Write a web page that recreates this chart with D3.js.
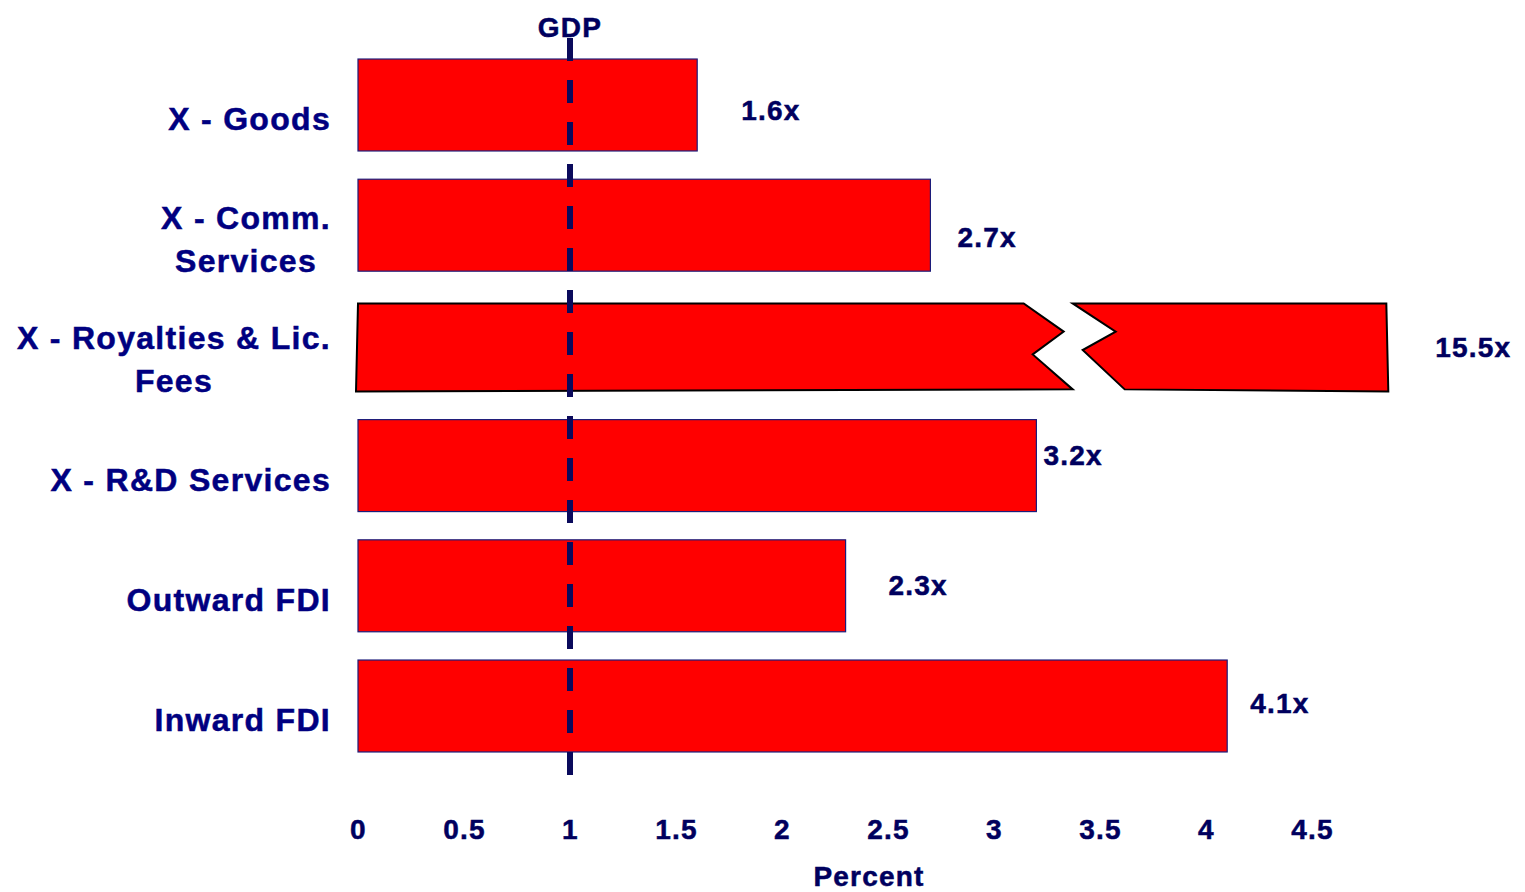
<!DOCTYPE html>
<html>
<head>
<meta charset="utf-8">
<script src="https://cdn.jsdelivr.net/npm/d3@7"></script>
<style>
  html, body { margin: 0; padding: 0; background: #fff; }
  svg { display: block; }
  text { font-family: "Liberation Sans", Arial, Helvetica, sans-serif; font-weight: bold; }
</style>
</head>
<body>
<svg id="chart" width="1525" height="892"></svg>
<script>
// Growth multiples relative to GDP (GDP = 1)
const categories = [
  "X - Goods",
  "X - Comm. Services",
  "X - Royalties & Lic. Fees",
  "X - R&D Services",
  "Outward FDI",
  "Inward FDI"
];
const categoryLines = [
  ["X - Goods"],
  ["X - Comm.", "Services"],
  ["X - Royalties & Lic.", "Fees"],
  ["X - R&D Services"],
  ["Outward FDI"],
  ["Inward FDI"]
];
const values = [1.6, 2.7, 15.5, 3.2, 2.3, 4.1];
const valueLabels = ["1.6x", "2.7x", "15.5x", "3.2x", "2.3x", "4.1x"];
const tickValues = [0, 0.5, 1, 1.5, 2, 2.5, 3, 3.5, 4, 4.5];
const gdpValue = 1;
const axisTitle = "Percent";
const refLabel = "GDP";

// Layout
const svg = d3.select("#chart");
const left = 358, right = 1312;
const axisMax = 4.5;
const breakAt = 3.14;      // where an off-scale bar is cut
const overflowEnd = 4.86;  // where an off-scale bar's tail ends
const labelNudge = [[44, 5], [27, 12], [47, 2], [7, -10], [43, -1], [23, -3]];

const x = d3.scaleLinear().domain([0, axisMax]).range([left, right]);
const y = d3.scaleBand().domain(categories).range([44.9, 766.1])
  .paddingInner(0.235).paddingOuter(0.1175);

const navy = "#000080";
const dark = "#00005e";

const g = svg.append("g");

// Regular bars
g.selectAll("rect.bar")
  .data(categories.map((c, i) => ({ c, v: values[i], i })).filter(d => d.v <= axisMax))
  .join("rect")
  .attr("class", "bar")
  .attr("x", x(0))
  .attr("y", d => y(d.c))
  .attr("width", d => x(d.v) - x(0))
  .attr("height", y.bandwidth())
  .attr("fill", "#ff0000")
  .attr("stroke", "#1c1c7a")
  .attr("stroke-width", 1.2);

// Off-scale bars, drawn with a zigzag break
const overflow = categories.map((c, i) => ({ c, v: values[i], i })).filter(d => d.v > axisMax);
overflow.forEach(d => {
  const top = y(d.c) + 4, h = y.bandwidth() - 4, bot = top + h;
  const bx = x(breakAt), xe = x(overflowEnd), x0 = x(0);
  const leftPart = [
    [x0, top], [bx, top], [bx + 40, top + 0.32 * h], [bx + 9, top + 0.58 * h],
    [bx + 49, bot - 2], [x0 - 2, bot]
  ];
  const rightPart = [
    [bx + 49, top], [xe - 2, top], [xe, bot], [bx + 101, bot - 2],
    [bx + 59, top + 0.53 * h], [bx + 92, top + 0.32 * h]
  ];
  [leftPart, rightPart].forEach(pts => {
    g.append("path")
      .attr("d", d3.line()(pts) + "Z")
      .attr("fill", "#ff0000")
      .attr("stroke", "#000")
      .attr("stroke-width", 2)
      .attr("stroke-linejoin", "miter");
  });
});

// Value labels
g.selectAll("text.val")
  .data(categories.map((c, i) => ({ c, v: values[i], i })))
  .join("text")
  .attr("class", "val")
  .attr("x", d => (d.v > axisMax ? x(overflowEnd) : x(d.v)) + labelNudge[d.i][0])
  .attr("y", d => y(d.c) + y.bandwidth() / 2 + labelNudge[d.i][1])
  .attr("dy", "0.35em")
  .attr("font-size", 28)
  .attr("letter-spacing", 1.2)
  .attr("stroke", dark)
  .attr("stroke-width", 0.5)
  .attr("fill", dark)
  .text(d => valueLabels[d.i]);

// Category labels (multi-line labels are centred as a block, block right-aligned)
const lineGap = 43;
categories.forEach((c, i) => {
  const lines = categoryLines[i];
  const cy = y(c) + y.bandwidth() / 2 + 14;
  const t = svg.append("text")
    .attr("font-size", 32)
    .attr("letter-spacing", 1.3)
    .attr("stroke", navy)
    .attr("stroke-width", 0.5)
    .attr("fill", navy);
  const firstY = cy - (lines.length - 1) * lineGap / 2;
  if (lines.length === 1) {
    t.attr("x", 331).attr("y", firstY).attr("dy", "0.35em")
      .attr("text-anchor", "end").text(lines[0]);
  } else {
    // measure widest line to centre the block against the right edge
    const widths = lines.map(s => {
      const tmp = svg.append("text").attr("font-size", 32).attr("letter-spacing", 1.3).text(s);
      const w = tmp.node().getComputedTextLength();
      tmp.remove();
      return w;
    });
    const cx = 331 - d3.max(widths) / 2;
    t.attr("text-anchor", "middle");
    lines.forEach((s, k) => {
      t.append("tspan").attr("x", cx).attr("y", firstY + k * lineGap)
        .attr("dy", "0.35em").text(s);
    });
  }
});

// GDP reference line
svg.append("line")
  .attr("x1", x(gdpValue)).attr("x2", x(gdpValue))
  .attr("y1", 38).attr("y2", 776)
  .attr("stroke", "#0a0a5c")
  .attr("stroke-width", 6)
  .attr("stroke-dasharray", "23,19");

svg.append("text")
  .attr("x", x(gdpValue))
  .attr("y", 37)
  .attr("text-anchor", "middle")
  .attr("font-size", 28)
  .attr("letter-spacing", 1.2)
  .attr("stroke", dark)
  .attr("stroke-width", 0.5)
  .attr("fill", dark)
  .text(refLabel);

// X axis (labels only)
const axis = d3.axisBottom(x).tickValues(tickValues).tickSize(0).tickPadding(0)
  .tickFormat(d3.format("~g"));
const ax = svg.append("g").attr("transform", "translate(0,829)").call(axis);
ax.select(".domain").remove();
ax.selectAll("text")
  .attr("dy", "0.35em")
  .attr("y", 0)
  .attr("font-size", 28)
  .attr("letter-spacing", 1.2)
  .attr("font-family", "Liberation Sans, Arial, sans-serif")
  .attr("font-weight", "bold")
  .attr("stroke", dark)
  .attr("stroke-width", 0.5)
  .attr("fill", dark);

svg.append("text")
  .attr("x", 869)
  .attr("y", 886)
  .attr("text-anchor", "middle")
  .attr("font-size", 28)
  .attr("letter-spacing", 1.2)
  .attr("stroke", dark)
  .attr("stroke-width", 0.5)
  .attr("fill", dark)
  .text(axisTitle);
</script>
</body>
</html>
